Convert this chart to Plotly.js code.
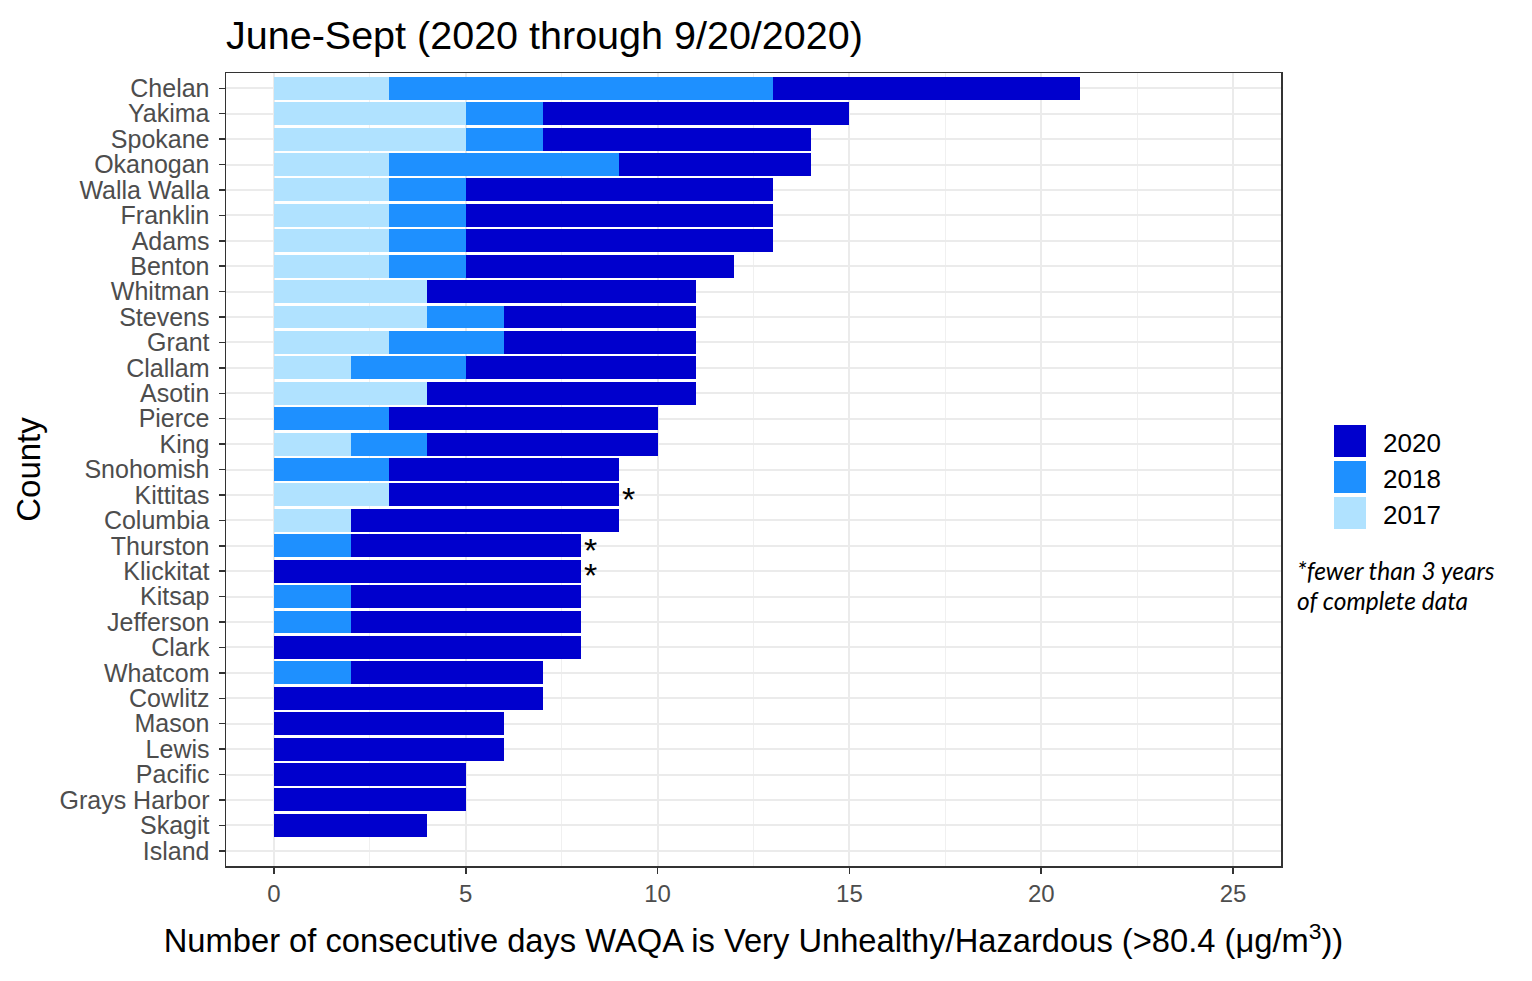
<!DOCTYPE html>
<html>
<head>
<meta charset="utf-8">
<script src="https://cdn.plot.ly/plotly-3.0.1.min.js"></script>
<style>html,body{margin:0;padding:0;background:#fff}#chart{width:1532px;height:981px}</style>
</head>
<body>
<div id="chart"></div>
<script>
// ---- data ----
var counties = ["Chelan","Yakima","Spokane","Okanogan","Walla Walla","Franklin","Adams","Benton","Whitman","Stevens","Grant","Clallam","Asotin","Pierce","King","Snohomish","Kittitas","Columbia","Thurston","Klickitat","Kitsap","Jefferson","Clark","Whatcom","Cowlitz","Mason","Lewis","Pacific","Grays Harbor","Skagit","Island"];
var days2017 = [3,5,5,3,3,3,3,3,4,4,3,2,4,0,2,0,3,2,0,0,0,0,0,0,0,0,0,0,0,0,0];
var days2018 = [10,2,2,6,2,2,2,2,0,2,3,3,0,3,2,3,0,0,2,0,2,2,0,2,0,0,0,0,0,0,0];
var days2020 = [8,8,7,5,8,8,8,7,7,5,5,6,7,7,6,6,6,7,6,8,6,6,8,5,7,6,6,5,5,4,0];
var starred = ["Kittitas","Thurston","Klickitat"];
var seriesNames = ["2017","2018","2020"];
var seriesColors = ["#B0E2FF","#1E90FF","#0000CD"];
var legendOrder = ["2020","2018","2017"];
var xTicks = [0,5,10,15,20,25];

// ---- layout geometry (pixels) ----
var W = 1532, H = 981;
var L = 226, R = 1281, T = 73, B = 866;
function px(x){ return (x - L) / (R - L); }
function py(y){ return 1 - (y - T) / (B - T); }

var series = [days2017, days2018, days2020];
var traces = series.map(function(vals, i){
  return {
    type: "bar", orientation: "h",
    x: vals, y: counties, name: seriesNames[i],
    marker: {color: seriesColors[i], line: {width: 0}},
    showlegend: false, hoverinfo: "x+y+name"
  };
});

var totals = counties.map(function(c, i){ return days2017[i] + days2018[i] + days2020[i]; });

var annotations = [];
starred.forEach(function(c){
  var i = counties.indexOf(c);
  annotations.push({
    x: totals[i], y: c, xref: "x", yref: "y", text: "*", showarrow: false,
    xanchor: "left", yanchor: "middle", xshift: 1, yshift: -4,
    height: 22, valign: "middle",
    font: {family: "Liberation Sans, Arial, sans-serif", size: 34, color: "#000"}
  });
});

var shapes = [];
var boxX0 = 1334, boxX1 = 1366, boxY0 = 425, boxH = 32, boxStep = 36;
legendOrder.forEach(function(name, k){
  var idx = seriesNames.indexOf(name);
  var y0 = boxY0 + k * boxStep;
  shapes.push({
    type: "rect", xref: "paper", yref: "paper",
    x0: px(boxX0), x1: px(boxX1), y0: py(y0), y1: py(y0 + boxH),
    fillcolor: seriesColors[idx], line: {width: 0}
  });
  annotations.push({
    xref: "paper", yref: "paper", x: px(1381), y: py(y0 + boxH / 2 + 2),
    text: name, showarrow: false, xanchor: "left", yanchor: "middle",
    font: {family: "Liberation Sans, Arial, sans-serif", size: 26, color: "#000"}
  });
});
annotations.push({
  xref: "paper", yref: "paper", x: px(1295), y: py(570),
  text: "<i>*fewer than 3 years</i>", showarrow: false, xanchor: "left", yanchor: "middle",
  font: {family: "Lato, Open Sans, sans-serif", size: 24.5, color: "#000"}
});
annotations.push({
  xref: "paper", yref: "paper", x: px(1295), y: py(600),
  text: "<i>of complete data</i>", showarrow: false, xanchor: "left", yanchor: "middle",
  font: {family: "Lato, Open Sans, sans-serif", size: 24.5, color: "#000"}
});

var layout = {
  width: W, height: H,
  margin: {l: L, r: W - R, t: T, b: H - B, pad: 0},
  paper_bgcolor: "#fff", plot_bgcolor: "#fff",
  barmode: "stack", bargap: 0.1,
  font: {family: "Liberation Sans, Arial, sans-serif", color: "#4D4D4D"},
  title: {
    text: "June-Sept (2020 through 9/20/2020)",
    x: 0, xref: "paper", xanchor: "left",
    y: 1 - 35 / H, yref: "container", yanchor: "middle",
    font: {family: "Liberation Sans, Arial, sans-serif", size: 39.5, color: "#000"}
  },
  xaxis: {
    range: [-1.25, 26.25], tickmode: "array", tickvals: xTicks, ticktext: xTicks.map(String),
    showgrid: true, gridcolor: "#EBEBEB", gridwidth: 2,
    minor: {dtick: 2.5, tick0: 0, showgrid: true, gridcolor: "#F0F0F0", gridwidth: 1},
    zeroline: false, showline: true, mirror: true, linecolor: "#333", linewidth: 1.5,
    ticks: "outside", ticklen: 6, tickcolor: "#333", tickwidth: 1.5,
    tickfont: {size: 24, color: "#4D4D4D"},
    title: {text: "Number of consecutive days WAQA is Very Unhealthy/Hazardous (>80.4 (μg/m<sup>3</sup>))",
            font: {size: 32.7, color: "#000"}, standoff: 23},
    fixedrange: true
  },
  yaxis: {
    type: "category", categoryorder: "array", categoryarray: counties,
    tickmode: "array", tickvals: counties, ticktext: counties,
    range: [counties.length - 1 + 0.6, -0.6],
    showgrid: true, gridcolor: "#EBEBEB", gridwidth: 2,
    zeroline: false, showline: true, mirror: true, linecolor: "#333", linewidth: 1.5,
    ticks: "outside", ticklen: 6, tickcolor: "#333", tickwidth: 1.5,
    ticklabelstandoff: 4,
    tickfont: {size: 25, color: "#4D4D4D"},
    title: {text: "County", font: {size: 33, color: "#000"}, standoff: 9},
    fixedrange: true
  },
  shapes: shapes,
  annotations: annotations
};

Plotly.newPlot("chart", traces, layout, {displayModeBar: false, staticPlot: true});
</script>
</body>
</html>
